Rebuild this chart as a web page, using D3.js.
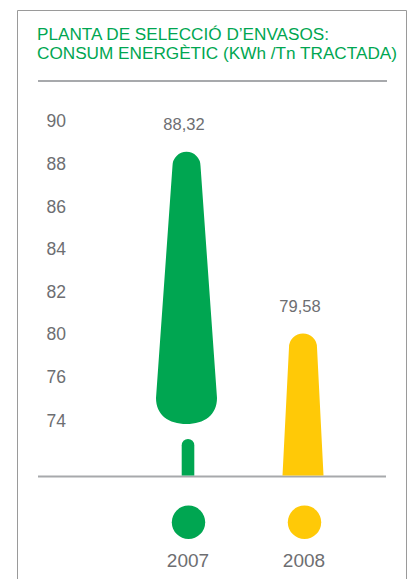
<!DOCTYPE html>
<html>
<head>
<meta charset="utf-8">
<script src="https://cdn.jsdelivr.net/npm/d3@7"></script>
<style>
  html, body { margin: 0; padding: 0; background: #fff; }
  svg { display: block; }
</style>
</head>
<body>
<svg id="chart" width="409" height="579"></svg>
<script>
// ---- data ----
const titleLines = ["PLANTA DE SELECCIÓ D\u2019ENVASOS:", "CONSUM ENERGÈTIC (KWh /Tn TRACTADA)"];
const categories = ["2007", "2008"];
const values = [88.32, 79.58];
const valueLabels = ["88,32", "79,58"];
const axisBreak = [true, false];
const tickValues = [90, 88, 86, 84, 82, 80, 76, 74];
const tickLabels = ["90", "88", "86", "84", "82", "80", "76", "74"];
const colors = ["#00a651", "#ffc907"];

// ---- layout ----
const svg = d3.select("#chart");
const W = 409, H = 579;
const textGray = "#6d6e71";
const lineGray = "#a7a9ac";
const baseY = 476.5;

// frame (open at bottom)
svg.append("path")
  .attr("d", `M17.5,${H} V10.5 H406.5 V${H}`)
  .attr("fill", "none").attr("stroke", "#9a9a9a").attr("stroke-width", 1);

// title
const title = svg.append("g");
const titleW = [292, 360];
titleLines.forEach((t, i) => {
  title.append("text")
    .attr("x", 37).attr("y", 39.5 + i * 19)
    .attr("fill", "#00a651")
    .attr("font-family", "Liberation Sans, Arial, sans-serif")
    .attr("font-size", 16)
    .attr("textLength", titleW[i])
    .attr("lengthAdjust", "spacingAndGlyphs")
    .text(t);
});
svg.append("line")
  .attr("x1", 38).attr("x2", 387).attr("y1", 81).attr("y2", 81)
  .attr("stroke", lineGray).attr("stroke-width", 2);

// scales (axis in the original is irregular: 78 is skipped)
const y = d3.scaleLinear()
  .domain([74, 76, 80, 90])
  .range([420, 376.5, 333.5, 120.5]);
const x = d3.scalePoint().domain(categories).range([188, 304]);

// y axis labels
const yAxis = d3.axisLeft(y)
  .tickValues(tickValues)
  .tickFormat((d, i) => tickLabels[i])
  .tickSize(0).tickPadding(0);
const ag = svg.append("g").attr("transform", "translate(66,0)").call(yAxis);
ag.select(".domain").remove();
ag.selectAll("text")
  .attr("fill", textGray)
  .attr("font-family", "Liberation Sans, Arial, sans-serif")
  .attr("font-size", 17.5)
  .attr("dy", "0.36em");

// baseline
svg.append("line")
  .attr("x1", 38).attr("x2", 386).attr("y1", baseY).attr("y2", baseY)
  .attr("stroke", lineGray).attr("stroke-width", 2);

// bars
const capR = 14;
const overshoot = 4.5;
const data = categories.map((c, i) => ({ c, v: values[i], label: valueLabels[i], brk: axisBreak[i], color: colors[i] }));

function brokenPath(cx, top) {
  const bot = y(74) + 4;
  const hw = 30.5, ry = 26;
  return `M${cx - capR},${top + capR}` +
    ` A${capR},${capR} 0 0 1 ${cx + capR},${top + capR}` +
    ` L${cx + hw},${bot - ry}` +
    ` C${cx + hw},${bot - 9} ${cx + hw * 0.58},${bot} ${cx},${bot}` +
    ` C${cx - hw * 0.58},${bot} ${cx - hw},${bot - 9} ${cx - hw},${bot - ry} Z`;
}
function stubPath(cx) {
  const top = y(74) + 19, r = 6.3;
  return `M${cx - r},${baseY - 1} V${top + r} A${r},${r} 0 0 1 ${cx + r},${top + r} V${baseY - 1} Z`;
}
function plainPath(cx, top) {
  const hw = 20.5;
  return `M${cx - capR},${top + capR}` +
    ` A${capR},${capR} 0 0 1 ${cx + capR},${top + capR}` +
    ` L${cx + hw},${baseY - 1} L${cx - hw},${baseY - 1} Z`;
}

const bars = svg.append("g");
data.forEach(d => {
  const cx = x(d.c);
  const top = y(d.v) - overshoot;
  if (d.brk) {
    bars.append("path").attr("d", brokenPath(cx - 1.5, top)).attr("fill", d.color);
    bars.append("path").attr("d", stubPath(cx)).attr("fill", d.color);
  } else {
    bars.append("path").attr("d", plainPath(cx - 1, top)).attr("fill", d.color);
  }
  svg.append("text")
    .attr("x", cx - 4).attr("y", top - 21.5)
    .attr("text-anchor", "middle")
    .attr("fill", textGray)
    .attr("font-family", "Liberation Sans, Arial, sans-serif")
    .attr("font-size", 16.5)
    .text(d.label);
  // legend dot + year
  svg.append("circle")
    .attr("cx", cx + 0.5).attr("cy", 522.3).attr("r", 16.7)
    .attr("fill", d.color);
  svg.append("text")
    .attr("x", cx).attr("y", 567.3)
    .attr("text-anchor", "middle")
    .attr("fill", textGray)
    .attr("font-family", "Liberation Sans, Arial, sans-serif")
    .attr("font-size", 19)
    .text(d.c);
});
</script>
</body>
</html>
